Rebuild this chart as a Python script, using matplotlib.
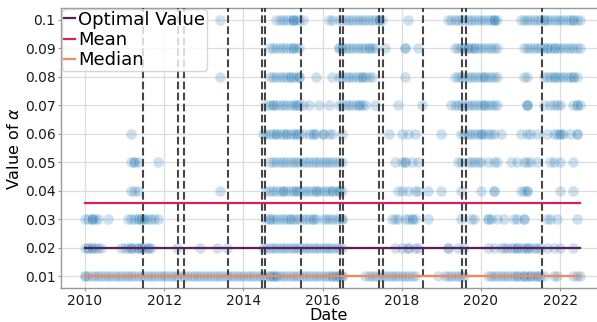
import matplotlib
matplotlib.use("Agg")
import matplotlib.pyplot as plt
import numpy as np

# ---- data (months since Jan 2010 at which each alpha value was selected) ----
m_010 = [41, 58, 59, 60, 61, 62, 63, 63, 63, 64, 65, 66, 74, 75, 77, 78, 79, 80, 81, 82, 83, 84, 85, 86,
         87, 88, 89, 89, 89, 90, 98, 110, 111, 112, 113, 114, 115, 116, 117, 118, 119, 120, 121, 122,
         123, 124, 124, 124, 125, 132, 133, 134, 135, 136, 137, 138, 139, 139, 140, 141, 142, 143, 144,
         145, 146, 147, 148, 148, 149, 150]
m_009 = [56, 57, 58, 59, 60, 61, 62, 63, 63, 64, 65, 77, 77, 78, 78, 79, 80, 81, 82, 83, 84, 85, 86, 86,
         87, 88, 91, 97, 97, 101, 112, 113, 114, 115, 115, 116, 116, 117, 118, 118, 119, 120, 121, 122,
         123, 124, 125, 133, 134, 135, 136, 137, 138, 139, 140, 140, 141, 142, 142, 143, 144, 145, 146,
         147, 148, 149, 150]
m_008 = [41, 56, 57, 58, 59, 60, 61, 62, 62, 63, 64, 65, 65, 70, 75, 77, 78, 79, 80, 81, 82, 83, 84, 84,
         85, 86, 87, 97, 112, 113, 114, 115, 116, 117, 118, 119, 120, 121, 121, 122, 123, 124, 125, 133,
         134, 139, 140, 141, 142, 142, 143, 144, 145, 146, 147, 148, 148, 149]
m_007 = [55, 56, 57, 57, 58, 59, 60, 61, 62, 63, 64, 64, 65, 66, 68, 71, 74, 77, 78, 79, 80, 81, 82, 83,
         83, 84, 85, 88, 95, 102, 111, 112, 113, 114, 115, 116, 117, 118, 119, 120, 121, 121, 122, 123,
         124, 125, 134, 134, 134, 139, 141, 142, 143, 144, 148, 149, 149, 150]
m_006 = [14, 54, 55, 56, 57, 58, 58, 59, 60, 61, 61, 62, 63, 64, 64, 65, 66, 68, 69, 69, 70, 72, 72, 74,
         75, 78, 92, 96, 98, 100, 108, 114, 115, 116, 117, 118, 119, 120, 120, 121, 122, 123, 124, 126,
         132, 134, 135, 137, 140, 142, 143, 144, 144, 145, 147, 149, 149]
m_005 = [14, 15, 15, 16, 22, 56, 57, 58, 59, 60, 61, 62, 63, 64, 65, 66, 67, 68, 69, 70, 71, 72, 73, 74,
         75, 76, 77, 78, 94, 96, 97, 97, 99, 101, 113, 114, 116, 117, 118, 119, 120, 122, 124, 125, 129,
         131, 133, 134, 135, 137, 141, 142, 144, 148]
m_004 = [14, 15, 16, 41, 55, 56, 57, 58, 59, 60, 60, 61, 62, 63, 64, 64, 65, 66, 67, 68, 69, 70, 70, 71,
         72, 73, 74, 75, 75, 76, 77, 77, 78, 95, 96, 98, 100, 101, 104, 108, 114, 120, 124, 124, 132, 133,
         134, 134, 144, 148]
m_003 = [0, 1, 2, 2, 2, 3, 4, 7, 13, 14, 15, 16, 16, 17, 17, 18, 18, 19, 20, 21, 22, 55, 56, 56, 57, 58,
         59, 60, 61, 62, 62, 63, 64, 65, 66, 67, 68, 69, 69, 70, 72, 73, 74, 75, 76, 77, 78, 78, 93, 94,
         95, 97, 98, 99, 99, 100, 104, 114, 117, 118, 122, 122, 123, 125, 127, 130, 131, 133, 133, 140,
         141, 143, 149]
m_002 = [0, 1, 1, 2, 2, 3, 4, 5, 11, 12, 13, 14, 14, 15, 16, 16, 17, 17, 18, 19, 19, 20, 28, 35, 40, 43,
         54, 55, 56, 57, 58, 59, 60, 61, 62, 63, 64, 65, 66, 67, 68, 69, 70, 71, 72, 73, 74, 75, 76, 77,
         78, 94, 96, 98, 98, 100, 101, 110, 110, 113, 115, 122, 124, 126, 127, 128, 129, 130, 131, 131,
         132, 133, 134, 134, 135, 136, 137, 138, 140, 142, 144, 148]
m_001 = [0, 0, 1, 2, 3, 4, 5, 6, 7, 8, 9, 10, 11, 12, 13, 14, 15, 16, 17, 18, 19, 20, 21, 22, 23, 24, 25,
         26, 27, 28, 29, 30, 31, 32, 33, 34, 35, 36, 37, 38, 39, 40, 41, 42, 43, 44, 45, 46, 47, 48, 49,
         50, 51, 52, 53, 54, 55, 56, 56, 57, 57, 58, 58, 59, 60, 61, 62, 63, 64, 65, 66, 67, 68, 69, 70,
         71, 72, 73, 74, 75, 75, 76, 76, 77, 77, 78, 78, 85, 86, 87, 88, 89, 90, 91, 92, 93, 94, 95, 96,
         97, 98, 99, 100, 107, 109, 110, 111, 112, 113, 114, 115, 122, 123, 124, 125, 126, 127, 128, 129,
         130, 131, 131, 132, 133, 133, 134, 135, 135, 136, 137, 137, 138, 139, 142, 143, 148, 149, 150]

alpha_values = [0.01, 0.02, 0.03, 0.04, 0.05, 0.06, 0.07, 0.08, 0.09, 0.10]
month_lists = [m_001, m_002, m_003, m_004, m_005, m_006, m_007, m_008, m_009, m_010]

# reference lines
optimal_value = 0.02
mean_value = 0.0355
median_value = 0.01
line_start, line_end = 2010.0, 2022.5

# dates of structural changes (vertical dashed lines), decimal years
break_dates = [2011.47, 2012.36, 2012.51, 2013.60, 2014.47, 2014.55, 2015.45, 2016.44, 2016.52,
               2017.42, 2017.53, 2018.54, 2019.51, 2019.63, 2021.55]

x_ticks = [2010, 2012, 2014, 2016, 2018, 2020, 2022]
y_ticks = [0.01, 0.02, 0.03, 0.04, 0.05, 0.06, 0.07, 0.08, 0.09, 0.1]

# ---- figure ----
fig = plt.figure(figsize=(5.97, 3.22), dpi=100)
ax = fig.add_axes([61 / 597, 34 / 322, 536 / 597, 280 / 322])

xs, ys = [], []
for a, months in zip(alpha_values, month_lists):
    for m in months:
        xs.append(2010 + m / 12.0)
        ys.append(a)
ax.scatter(xs, ys, s=60, color="#1f77b4", alpha=0.22, edgecolors="white", linewidths=0.6, zorder=2)

ax.plot([line_start, line_end], [optimal_value, optimal_value], color="#5a1f55", lw=1.6,
        label="Optimal Value", zorder=4)
ax.plot([line_start, line_end], [mean_value, mean_value], color="#d5215e", lw=1.6,
        label="Mean", zorder=4)
ax.plot([line_start, line_end], [median_value, median_value], color="#f5875f", lw=1.6,
        label="Median", zorder=4)

for d in break_dates:
    ax.axvline(d, color="#333333", ls="--", lw=1.5, alpha=0.9, zorder=3)

ax.set_xlim(2009.394, 2022.93)
ax.set_ylim(0.0058, 0.1042)
ax.set_xticks(x_ticks)
ax.set_xticklabels([str(t) for t in x_ticks])
ax.set_yticks(y_ticks)
ax.set_yticklabels([f"{v:g}" for v in y_ticks])

ax.grid(True, color="#dddddd", lw=0.9, zorder=0)
ax.set_axisbelow(True)
for side in ["left", "bottom", "top"]:
    ax.spines[side].set_color("#999999")
    ax.spines[side].set_linewidth(1.0)
ax.spines["right"].set_visible(False)
ax.tick_params(axis="both", labelsize=10, labelcolor="#1a1a1a", length=2, pad=2, color="#999999")

ax.set_xlabel("Date", fontsize=11.5, labelpad=0)
ax.set_ylabel(r"Value of $\alpha$", fontsize=11.5, labelpad=2)

leg = ax.legend(loc="upper left", fontsize=13, handlelength=0.6, handletextpad=0.2,
                labelspacing=0.12, borderpad=0.1, borderaxespad=0.05, framealpha=0.8)
leg.set_zorder(10)

fig.savefig("out.png", dpi=100)
